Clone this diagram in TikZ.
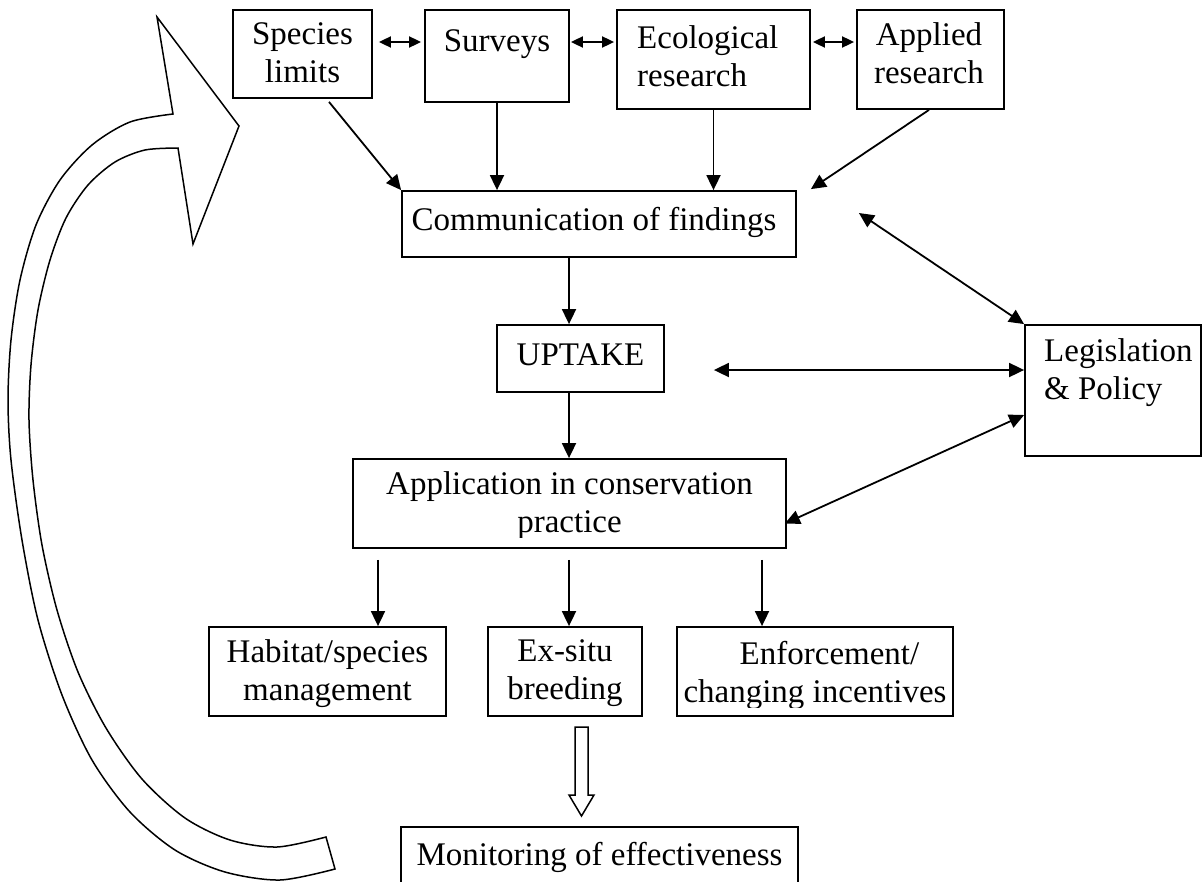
\documentclass[tikz,border=0pt]{standalone}
\usepackage{fontspec}
\setmainfont{Liberation Serif}
\usetikzlibrary{arrows.meta,calc}
\newcommand\bigfont{\fontsize{33}{38}\selectfont}
\begin{document}
\begin{tikzpicture}[x=1pt,y=-1pt,
  box/.style={draw, line width=1.8pt, inner sep=0pt},
  txt/.style={font=\bigfont, align=center, inner sep=0pt, anchor=north, execute at begin node=\strut},
  arr/.style={line width=1.8pt, -{Triangle[length=15pt,width=14pt]}},
  darr/.style={line width=1.8pt, {Triangle[length=15pt,width=14pt]}-{Triangle[length=15pt,width=14pt]}},
  sarr/.style={line width=1.8pt, {Triangle[length=12pt,width=11pt]}-{Triangle[length=12pt,width=11pt]}},
  bigarrow/.style={draw, line width=1.5pt, line join=miter}
]
\useasboundingbox (0,0) rectangle (1202,881);

% boxes
\node[box, minimum width=139pt, minimum height=88pt] (sp) at (302.5,54) {};
\node[box, minimum width=144pt, minimum height=92pt] (sv) at (497,56) {};
\node[box, minimum width=193pt, minimum height=99pt] (eco) at (713.5,59.5) {};
\node[box, minimum width=147pt, minimum height=99pt] (ar) at (930.5,59.5) {};
\node[box, minimum width=394pt, minimum height=66pt] (comm) at (599,224) {};
\node[box, minimum width=167pt, minimum height=67pt] (up) at (580.5,358.5) {};
\node[box, minimum width=176pt, minimum height=131pt] (leg) at (1113,390.5) {};
\node[box, minimum width=433pt, minimum height=89pt] (ap) at (569.5,503.5) {};
\node[box, minimum width=237pt, minimum height=89pt] (hab) at (327.5,671.5) {};
\node[box, minimum width=154pt, minimum height=89pt] (ex) at (565,671.5) {};
\node[box, minimum width=276pt, minimum height=89pt] (enf) at (815,671.5) {};
\node[box, minimum width=397pt, minimum height=90pt] (mon) at (599.5,872) {};

% texts
\node[txt] (spt) at (302.5,22) {Species\\limits};
\node[txt] (svt) at (497,24.4) {Surveys};
\node[txt, align=left, anchor=north west] (ecot) at (637,25.4) {Ecological\\research};
\node[txt] (art) at (929,22.4) {Applied\\research};
\node[txt] (commt) at (594,203.4) {Communication of findings};
\node[txt] (upt) at (580.5,338.4) {UPTAKE};
\node[txt, align=left, anchor=north west] (legt) at (1044,338.4) {Legislation\\\& Policy};
\begin{scope}
  \clip (353,459) rectangle (786,537);
  \node[txt] (apt) at (569.5,471.4) {Application in conservation\\practice};
\end{scope}
\node[txt] (habt) at (327.5,639.4) {Habitat/species\\management};
\node[txt] (ext) at (565,639.4) {Ex-situ\\breeding};
\begin{scope}
  \clip (677,627) rectangle (953,707);
  \node[txt] (enft) at (815,641.4) {\hspace*{29pt}Enforcement/\\changing incentives};
\end{scope}
\node[txt] (mont) at (599.5,838.4) {Monitoring of effectiveness};

% top row double arrows
\draw[sarr] ($(sp.east |- 0,42)+(6,0)$) -- ($(sv.west |- 0,42)+(-3,0)$);
\draw[sarr] ($(sv.east |- 0,42)+(1,0)$) -- ($(eco.west |- 0,42)+(-2,0)$);
\draw[sarr] ($(eco.east |- 0,42)+(2,0)$) -- ($(ar.west |- 0,42)+(-2,0)$);

% into communication
\draw[arr] ($(sp.south -| 329,0)+(0,3)$) -- (comm.north west);
\draw[arr] (sv.south) -- (sv.south |- comm.north);
\draw[arr] (eco.south) -- (eco.south |- comm.north);
\draw[arr] (ar.south -| 929,0) -- ($(comm.north east)+(14,-1)$);

% legislation links
\draw[darr] ($(comm.east)+(62,-11)$) -- (leg.north west);
\draw[darr] ($(up.east |- 0,370)+(49,0)$) -- (leg.west |- 0,370);
\draw[darr] ($(ap.east)+(-2,20)$) -- (leg.west |- 0,415);

% main column
\draw[arr] (comm.south -| 569,0) -- (up.north -| 569,0);
\draw[arr] (up.south -| 569,0) -- (ap.north -| 569,0);
\draw[arr] ($(ap.south -| 378,0)+(0,11)$) -- (hab.north -| 378,0);
\draw[arr] ($(ap.south -| 569,0)+(0,11)$) -- (ex.north -| 569,0);
\draw[arr] ($(ap.south -| 762,0)+(0,11)$) -- (enf.north -| 762,0);

% hollow block arrow to monitoring
\draw[line width=1.5pt, line join=miter] (575,727) -- (588,727) -- (588,795) -- (594,795)
  -- (581.5,816) -- (569,795) -- (575,795) -- cycle;

% big curved return arrow
\draw[bigarrow] (173,114) -- (157,17) -- (239,126) -- (193,244) -- (178,148)
  -- plot[smooth] coordinates {(178,148) (145,150) (115,162) (88,185) (66,218) (50,260)
     (38,310) (31,365) (29,420) (33,480) (42,545) (57,610) (78,672) (106,728) (142,779)
     (185,818) (230,840) (277,847) (326,837)}
  -- (335,869)
  -- plot[smooth] coordinates {(335,869) (280,880) (225,872) (175,850) (130,812) (92,760)
     (62,695) (38,620) (22,540) (11,460) (8,400) (11,340) (20,280) (36,225) (60,180)
     (92,145) (130,122) (173,114)}
  -- cycle;
\end{tikzpicture}
\end{document}
